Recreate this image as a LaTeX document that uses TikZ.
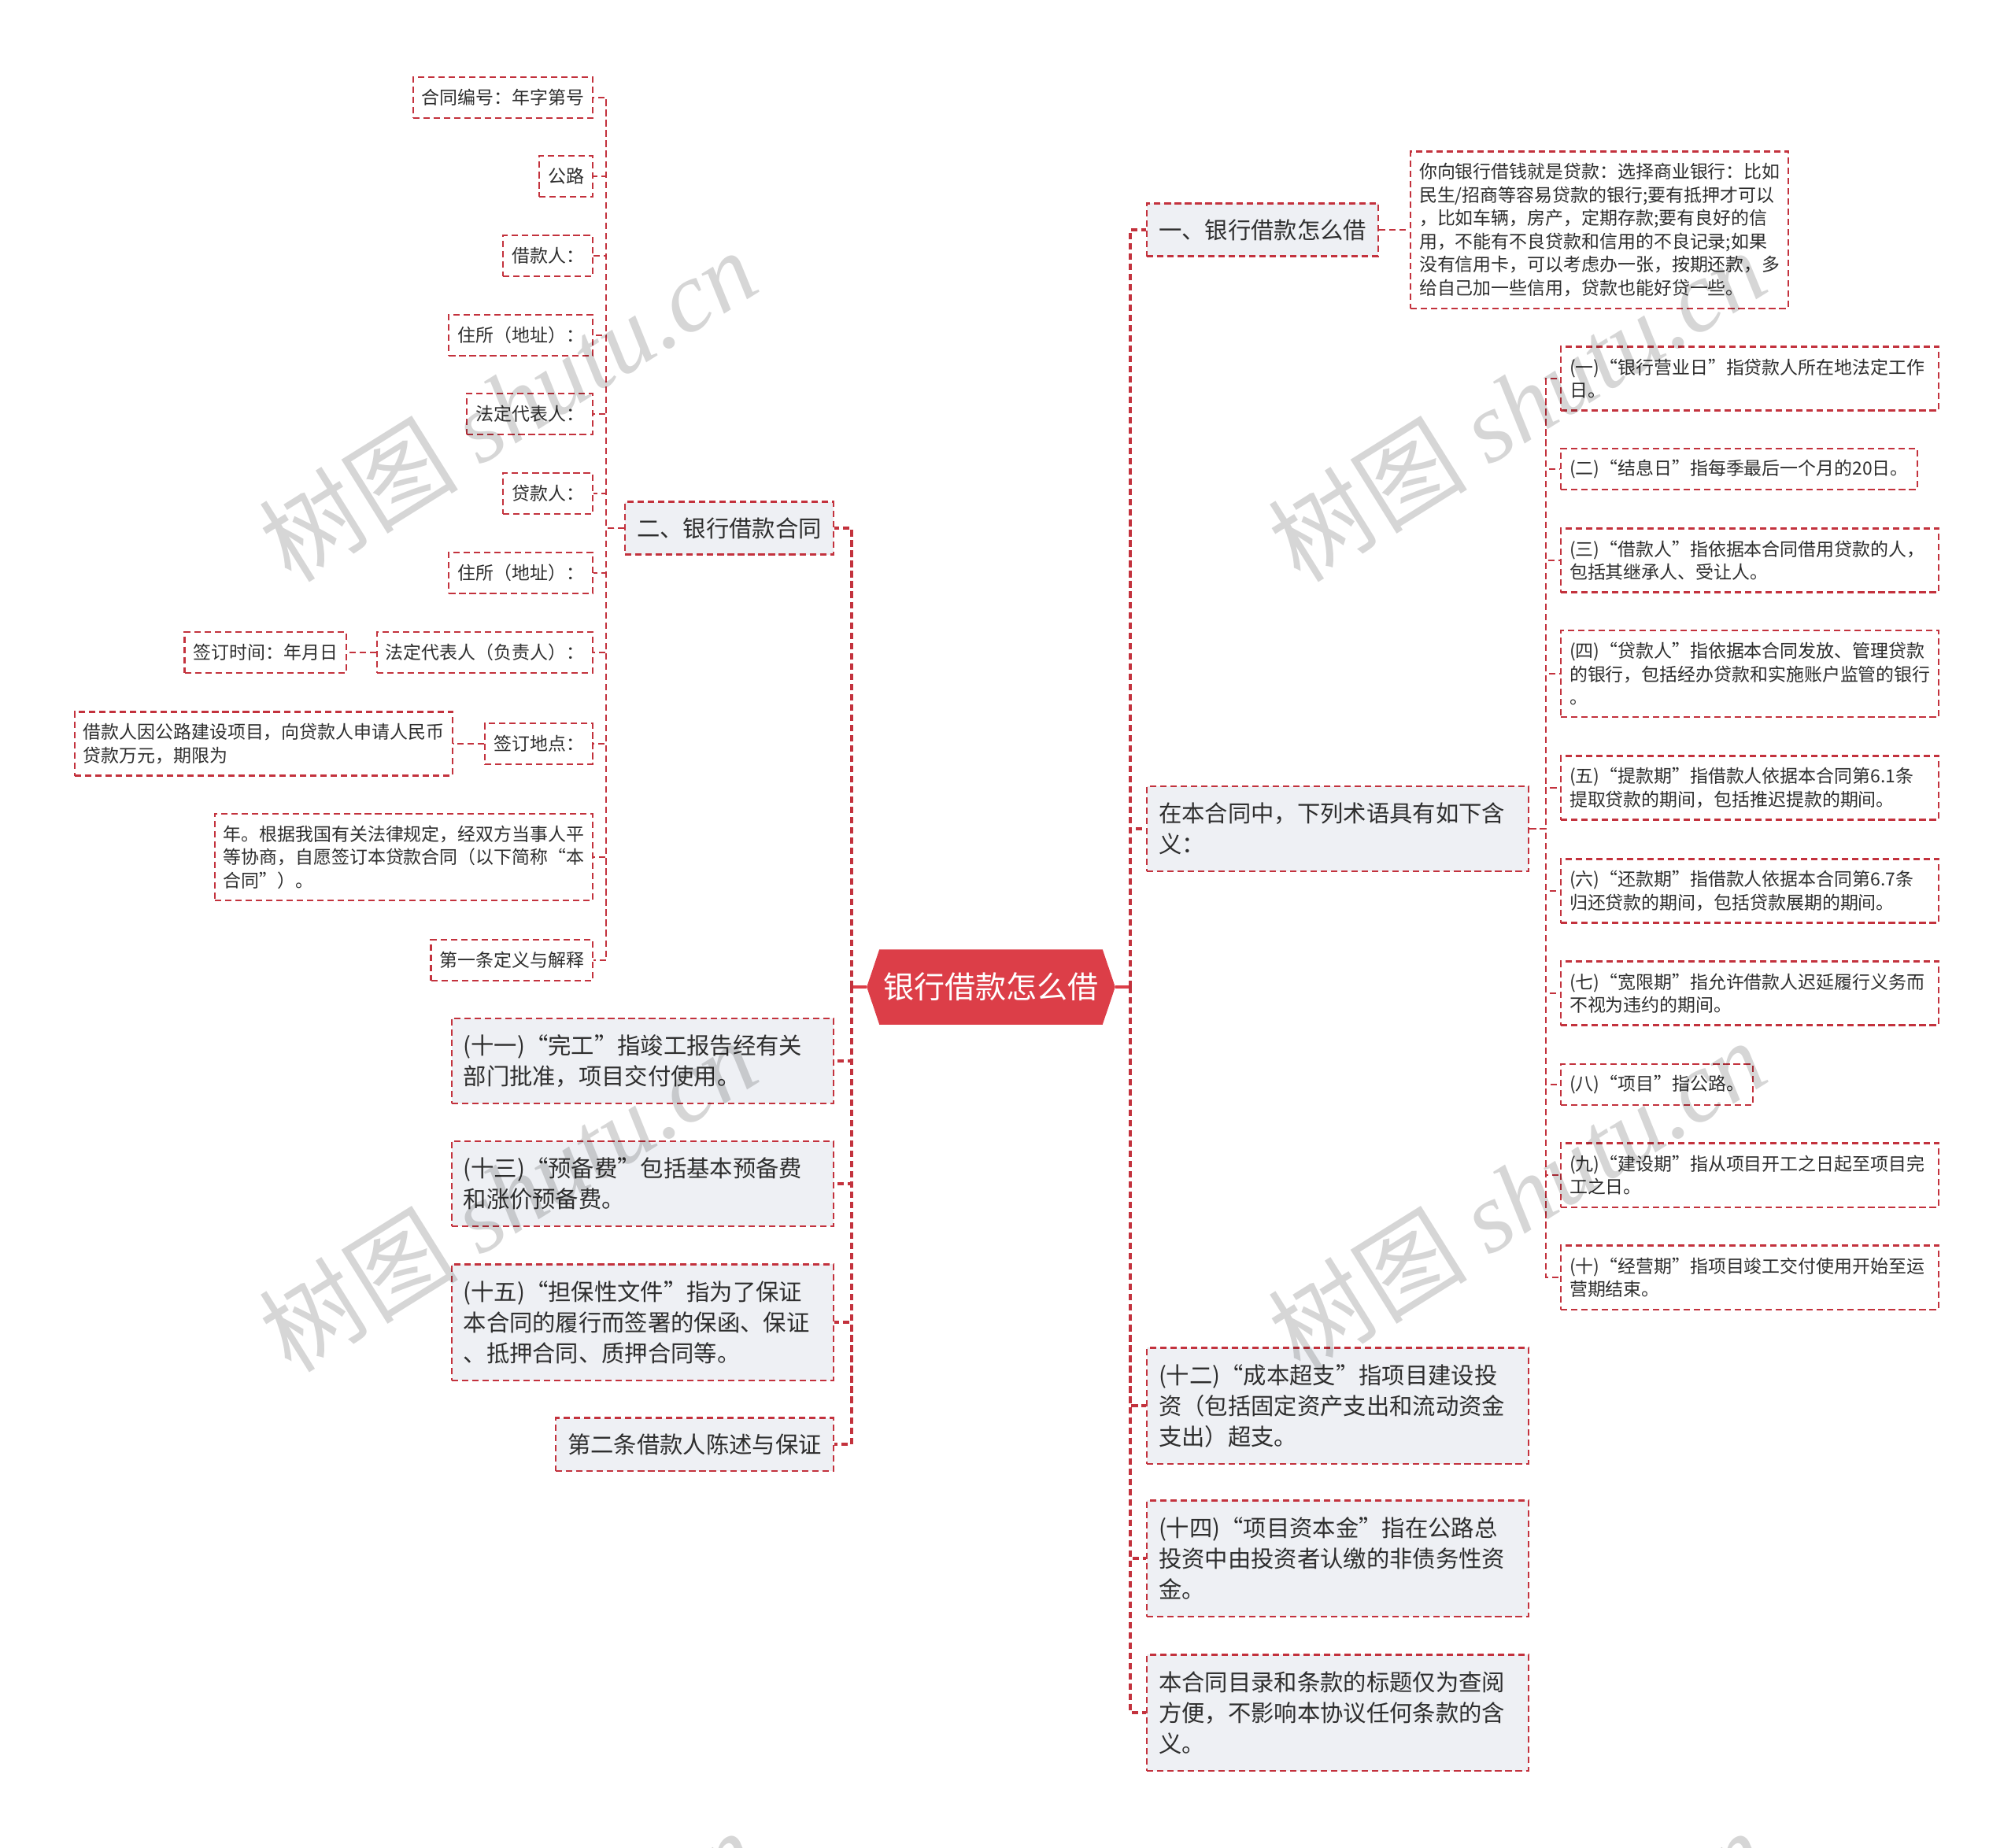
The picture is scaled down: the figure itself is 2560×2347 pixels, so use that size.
\documentclass[tikz,border=0pt]{standalone}
\usepackage{fontspec}
\setmainfont{Noto Sans CJK SC}
\newfontfamily\wmlatin{Liberation Serif}
\usepackage{xcolor}
\usetikzlibrary{backgrounds}

\definecolor{linered}{HTML}{C3323D}
\definecolor{rootred}{HTML}{DC3E48}
\definecolor{boxgray}{HTML}{EEF0F4}
\definecolor{ink}{HTML}{2E2E2E}

\tikzset{
  topic/.style={draw=linered, line width=0.6pt, dash pattern=on 2.3pt off 1.4pt,
    fill=boxgray, text=ink, font=\fontsize{8.34}{11.1}\selectfont,
    inner xsep=0.15cm, inner ysep=0.19cm, minimum height=0.67cm, align=left},
  topic2/.style={topic, text width=4.55cm, minimum height=1.08cm},
  topic3/.style={topic, text width=4.55cm, minimum height=1.47cm},
  leaf/.style={draw=linered, line width=0.6pt, dash pattern=on 2.3pt off 1.4pt,
    fill=white, text=ink, font=\fontsize{6.52}{8.37}\selectfont,
    inner xsep=0.11cm, inner ysep=0.14cm, minimum height=0.52cm, align=left},
  leaf2/.style={leaf, text width=4.58cm, minimum height=0.81cm},
  leaf3/.style={leaf, text width=4.58cm, minimum height=1.1cm},
  rootbox/.style={text=white, font=\fontsize{11.1}{13}\selectfont,
    minimum width=2.82cm, minimum height=0.94cm, inner sep=0pt},
  rootline/.style={rootred, line width=0.9pt},
  trunk/.style={linered, line width=0.9pt, dash pattern=on 2.3pt off 1.4pt},
  link/.style={linered, line width=0.6pt, dash pattern=on 2.3pt off 1.4pt},
  watermark/.style={rotate=32, text=black, text opacity=0.16,
    font=\fontsize{36}{40}\selectfont}
}

\begin{document}
\begin{tikzpicture}[x=0.01cm, y=-0.01cm]
  \useasboundingbox (0,0) rectangle (2560,2347);
  % Root
  \node[rootbox] (root) at (1259,1254) {银行借款怎么借};
  \coordinate (rootW) at ([xshift=-0.16cm]root.west);
  \coordinate (rootE) at ([xshift=0.16cm]root.east);
  \begin{scope}[on background layer]
    \fill[rootred] (rootW) -- (root.north west) -- (root.north east)
      -- (rootE) -- (root.south east) -- (root.south west) -- cycle;
  \end{scope}
  \coordinate (ljoint) at (1082,1254);
  \coordinate (rjoint) at (1436,1254);

  % Right branch
  \node[topic, anchor=west] (sec1) at (1456,292) {一、银行借款怎么借};
  \node[leaf, text width=4.58cm, minimum height=1.99cm, anchor=west] (advice) at (1791,292)
    {你向银行借钱就是贷款：选择商业银行：比如\\民生/招商等容易贷款的银行;要有抵押才可以\\，比如车辆，房产，定期存款;要有良好的信\\用，不能有不良贷款和信用的不良记录;如果\\没有信用卡，可以考虑办一张，按期还款，多\\给自己加一些信用，贷款也能好贷一些。};
  \node[topic2, anchor=west] (terms) at (1456,1053) {在本合同中，下列术语具有如下含\\义：};
  \node[topic3, anchor=west] (over) at (1456,1786) {(十二)“成本超支”指项目建设投\\资（包括固定资产支出和流动资金\\支出）超支。};
  \node[topic3, anchor=west] (capital) at (1456,1980) {(十四)“项目资本金”指在公路总\\投资中由投资者认缴的非债务性资\\金。};
  \node[topic3, anchor=west] (heading) at (1456,2176) {本合同目录和条款的标题仅为查阅\\方便，不影响本协议任何条款的含\\义。};

  % Terms
  \node[leaf2, anchor=west] (t1) at (1982,481) {(一)“银行营业日”指贷款人所在地法定工作\\日。};
  \node[leaf, anchor=west] (t2) at (1982,596) {(二)“结息日”指每季最后一个月的20日。};
  \node[leaf2, anchor=west] (t3) at (1982,712) {(三)“借款人”指依据本合同借用贷款的人，\\包括其继承人、受让人。};
  \node[leaf3, anchor=west] (t4) at (1982,856) {(四)“贷款人”指依据本合同发放、管理贷款\\的银行，包括经办贷款和实施账户监管的银行\\。};
  \node[leaf2, anchor=west] (t5) at (1982,1001) {(五)“提款期”指借款人依据本合同第6.1条\\提取贷款的期间，包括推迟提款的期间。};
  \node[leaf2, anchor=west] (t6) at (1982,1132) {(六)“还款期”指借款人依据本合同第6.7条\\归还贷款的期间，包括贷款展期的期间。};
  \node[leaf2, anchor=west] (t7) at (1982,1262) {(七)“宽限期”指允许借款人迟延履行义务而\\不视为违约的期间。};
  \node[leaf, anchor=west] (t8) at (1982,1378) {(八)“项目”指公路。};
  \node[leaf2, anchor=west] (t9) at (1982,1493) {(九)“建设期”指从项目开工之日起至项目完\\工之日。};
  \node[leaf2, anchor=west] (t10) at (1982,1623) {(十)“经营期”指项目竣工交付使用开始至运\\营期结束。};

  % Left branch
  \node[topic, anchor=east] (sec2) at (1060,671) {二、银行借款合同};
  \node[topic2, anchor=east] (f11) at (1060,1348) {(十一)“完工”指竣工报告经有关\\部门批准，项目交付使用。};
  \node[topic2, anchor=east] (f13) at (1060,1504) {(十三)“预备费”包括基本预备费\\和涨价预备费。};
  \node[topic3, anchor=east] (f15) at (1060,1680) {(十五)“担保性文件”指为了保证\\本合同的履行而签署的保函、保证\\、抵押合同、质押合同等。};
  \node[topic, anchor=east] (art2) at (1060,1835) {第二条借款人陈述与保证};

  % Contract items
  \foreach \nm/\yy/\txt in {no/124/合同编号：年字第号, road/224/公路, borrower/325/借款人：,
      addr1/426/住所（地址）：, legal/526/法定代表人：, lender/627/贷款人：,
      addr2/728/住所（地址）：, rep/829/法定代表人（负责人）：, place/945/签订地点：,
      art1/1220/第一条定义与解释}
    \node[leaf, anchor=east] (\nm) at (754,\yy) {\txt};
  \node[leaf3, anchor=east] (year) at (754,1089) {年。根据我国有关法律规定，经双方当事人平\\等协商，自愿签订本贷款合同（以下简称“本\\合同”）。};
  \node[leaf, anchor=east] (signtime) at (441,829) {签订时间：年月日};
  \node[leaf2, anchor=east] (purpose) at (576,945) {借款人因公路建设项目，向贷款人申请人民币\\贷款万元，期限为};

  % Connectors
  \draw[rootline] (rootW) -- (ljoint);
  \draw[rootline] (rootE) -- (rjoint);
  \foreach \c in {sec1,terms,over,capital,heading}
    \draw[trunk] (rjoint) |- (\c.west);
  \foreach \c in {sec2,f11,f13,f15,art2}
    \draw[trunk] (ljoint) |- (\c.east);
  \draw[link] (sec1.east) -- (advice.west);
  \foreach \c in {t1,t2,t3,t4,t5,t6,t7,t8,t9,t10}
    \draw[link] (terms.east) -- ++(21,0) |- (\c.west);
  \foreach \c in {no,road,borrower,addr1,legal,lender,addr2,rep,place,year,art1}
    \draw[link] (sec2.west) -- ++(-23,0) |- (\c.east);
  \draw[link] (rep.west) -- (signtime.east);
  \draw[link] (place.west) -- (purpose.east);

  % Watermarks
  \foreach \wx/\wy [count=\i] in {645/514, 1927/514, 645/1518, 1927/1518, 645/2522, 1927/2522}
    \node[watermark] (wm\i) at (\wx,\wy) {树图 {\wmlatin\itshape shutu.cn}};
\end{tikzpicture}
\end{document}
